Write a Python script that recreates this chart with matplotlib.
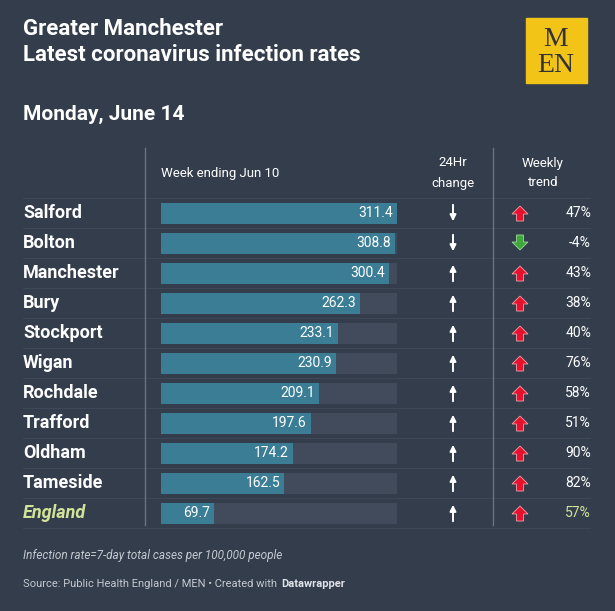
import matplotlib
matplotlib.use("Agg")
import matplotlib.pyplot as plt
from matplotlib.patches import Rectangle, FancyArrow

areas = ["Salford", "Bolton", "Manchester", "Bury", "Stockport", "Wigan",
         "Rochdale", "Trafford", "Oldham", "Tameside", "England"]
rates = [311.4, 308.8, 300.4, 262.3, 233.1, 230.9, 209.1, 197.6, 174.2, 162.5, 69.7]
change_24h = ["down", "down", "up", "up", "up", "up", "up", "up", "up", "up", "up"]
weekly = [47, -4, 43, 38, 40, 76, 58, 51, 90, 82, 57]

bg = "#333d4c"
bar_col = "#3a7d95"
track_col = "#424b5b"
grid_col = "#3f4859"
eng_col = "#d4e39a"

fig = plt.figure(figsize=(6.15, 6.11), dpi=100, facecolor=bg)
ax = fig.add_axes([0, 0, 1, 1])
ax.set_xlim(0, 615)
ax.set_ylim(611, 0)
ax.axis("off")
ax.set_facecolor(bg)

font = "Roboto"
ax.text(23, 29, "Greater Manchester", color="white", fontsize=16, fontweight="bold", family=font, va="center")
ax.text(23, 55, "Latest coronavirus infection rates", color="white", fontsize=16, fontweight="bold", family=font, va="center")
ax.text(23, 114, "Monday, June 14", color="white", fontsize=15, fontweight="bold", family=font, va="center")

# logo
ax.add_patch(Rectangle((526, 18), 61, 65, color="#f2c418", zorder=2))
ax.text(556, 39, "M", color="#333333", fontsize=20, family="Liberation Serif", ha="center", va="center", zorder=3)
ax.text(556, 65, "EN", color="#333333", fontsize=20, family="Liberation Serif", ha="center", va="center", zorder=3)

# headers
ax.text(161, 174, "Week ending Jun 10", color="white", fontsize=9.5, family=font, va="center")
ax.text(453, 163, "24Hr", color="white", fontsize=9.5, family=font, ha="center", va="center")
ax.text(453, 183, "change", color="white", fontsize=9.5, family=font, ha="center", va="center")
ax.text(543, 163, "Weekly", color="white", fontsize=9.5, family=font, ha="center", va="center")
ax.text(543, 183, "trend", color="white", fontsize=9.5, family=font, ha="center", va="center")

ax.plot([145, 145], [148, 525], color="#6b7382", lw=1)
ax.plot([493, 493], [148, 525], color="#6b7382", lw=1)

x0, x1 = 161, 397
scale = (x1 - x0) / max(rates)
ys = [213 + 30 * i for i in range(len(areas))]

for y in ys + [ys[-1] + 30]:
    ax.plot([23, 590], [y - 15, y - 15], color=grid_col, lw=0.8, zorder=1)

ax.barh(ys, [x1 - x0] * len(ys), left=x0, height=21, color=track_col, zorder=2)
ax.barh(ys, [r * scale for r in rates], left=x0, height=21, color=bar_col, zorder=3)

for area, r, ch, w, y in zip(areas, rates, change_24h, weekly, ys):
    eng = area == "England"
    ax.text(23, y, area, color=eng_col if eng else "white", fontsize=13, fontweight="bold",
            style="italic" if eng else "normal", family=font, va="center")
    ax.text(x0 + r * scale - 4, y, f"{r:.1f}", color="white", fontsize=10, family=font,
            ha="right", va="center", zorder=4)
    if ch == "up":
        ax.annotate("", xy=(453, y - 11), xytext=(453, y + 11),
                    arrowprops=dict(arrowstyle="-|>", color="white", lw=1.4, mutation_scale=9))
    else:
        ax.annotate("", xy=(453, y + 11), xytext=(453, y - 11),
                    arrowprops=dict(arrowstyle="-|>", color="white", lw=1.4, mutation_scale=9))
    if w >= 0:
        ax.add_patch(FancyArrow(520, y + 8, 0, -15, width=7, head_width=16, head_length=8,
                                length_includes_head=True, color="#e8112d", ec="#f3a0aa", lw=0.6, zorder=4))
    else:
        ax.add_patch(FancyArrow(520, y - 8, 0, 15, width=7, head_width=16, head_length=8,
                                length_includes_head=True, color="#3fa83a", ec="#a0d79c", lw=0.6, zorder=4))
    ax.text(591, y, f"{w}%", color=eng_col if eng else "white", fontsize=10, family=font,
            ha="right", va="center")

ax.text(23, 556, "Infection rate=7-day total cases per 100,000 people", color="#c5c9d0",
        fontsize=8.5, style="italic", family=font, va="center")
t = ax.text(23, 584, "Source: Public Health England / MEN • Created with", color="#c5c9d0",
            fontsize=8, family=font, va="center")
ax.annotate("Datawrapper", xy=(1, 0.5), xycoords=t, xytext=(3, 0), textcoords="offset points",
            color="#e0e3e8", fontsize=8, fontweight="bold", family=font, va="center")

fig.savefig("out.png", dpi=100, facecolor=bg)
